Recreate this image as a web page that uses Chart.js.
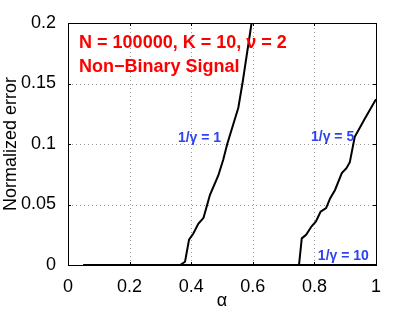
<!DOCTYPE html>
<html>
<head>
<meta charset="utf-8">
<script src="https://cdn.jsdelivr.net/npm/chart.js@4.4.0/dist/chart.umd.min.js"></script>
<style>
  html, body { margin: 0; padding: 0; background: #fff; }
  #wrap { width: 415px; height: 312px; }
</style>
</head>
<body>
<div id="wrap"><canvas id="errChart" width="415" height="312"></canvas></div>
<script>
// curve data
const alphaG1 = [0.05, 0.30, 0.364, 0.380, 0.393, 0.407, 0.423, 0.440, 0.461, 0.488, 0.504, 0.517, 0.553, 0.567, 0.596];
const errG1   = [0, 0, 0, 0.0027, 0.021, 0.026, 0.034, 0.039, 0.058, 0.074, 0.087, 0.100, 0.130, 0.151, 0.200];
const alphaG5 = [0.05, 0.750, 0.759, 0.773, 0.791, 0.805, 0.820, 0.838, 0.851, 0.867, 0.889, 0.904, 0.915, 0.931, 0.942, 0.964, 1.0];
const errG5   = [0, 0, 0.022, 0.025, 0.032, 0.036, 0.044, 0.047, 0.055, 0.062, 0.076, 0.080, 0.085, 0.106, 0.111, 0.121, 0.137];
const alphaG10 = [0.05, 1.0];
const errG10   = [0, 0];

const xTicks = [0, 0.2, 0.4, 0.6, 0.8, 1];
const yTicks = [0, 0.05, 0.1, 0.15, 0.2];

const curveLabels = ['1/\u03b3 = 1', '1/\u03b3 = 5', '1/\u03b3 = 10'];
const titleLines = ['N = 100000, K = 10, \u03bd = 2', 'Non\u2212Binary Signal'];

const fontFam = '"Liberation Sans", Arial, sans-serif';

function toPoints(xs, ys) {
    return xs.map((x, i) => ({ x: x, y: ys[i] }));
}

// dotted grid (matlab style), drawn under the curves
const dottedGrid = {
    id: 'dottedGrid',
    beforeDatasetsDraw(chart) {
        const ctx = chart.ctx;
        const a = chart.chartArea;
        const xs = chart.scales.x, ys = chart.scales.y;
        ctx.save();
        ctx.strokeStyle = '#999';
        ctx.lineWidth = 1;
        ctx.setLineDash([1, 3]);
        ctx.beginPath();
        xTicks.slice(1, -1).forEach(v => {
            const px = Math.round(xs.getPixelForValue(v)) + 0.5;
            ctx.moveTo(px, a.bottom); ctx.lineTo(px, a.top);
        });
        yTicks.slice(1, -1).forEach(v => {
            const py = Math.round(ys.getPixelForValue(v)) + 0.5;
            ctx.moveTo(a.left, py); ctx.lineTo(a.right, py);
        });
        ctx.stroke();
        ctx.restore();
    }
};

// box, inward ticks and in-plot text
const boxAndText = {
    id: 'boxAndText',
    afterDraw(chart) {
        const ctx = chart.ctx;
        const a = chart.chartArea;
        const xs = chart.scales.x, ys = chart.scales.y;
        ctx.save();
        ctx.strokeStyle = '#000';
        ctx.lineWidth = 1;
        ctx.strokeRect(a.left + 0.5, a.top + 0.5, a.right - a.left, a.bottom - a.top);
        ctx.beginPath();
        xTicks.forEach(v => {
            const px = Math.round(xs.getPixelForValue(v)) + 0.5;
            ctx.moveTo(px, a.bottom); ctx.lineTo(px, a.bottom - 3);
            ctx.moveTo(px, a.top); ctx.lineTo(px, a.top + 3);
        });
        yTicks.forEach(v => {
            const py = Math.round(ys.getPixelForValue(v)) + 0.5;
            ctx.moveTo(a.left, py); ctx.lineTo(a.left + 3, py);
            ctx.moveTo(a.right, py); ctx.lineTo(a.right - 3, py);
        });
        ctx.stroke();

        ctx.fillStyle = '#ff0000';
        ctx.font = 'bold 18px ' + fontFam;
        ctx.textAlign = 'left';
        ctx.textBaseline = 'top';
        ctx.fillText(titleLines[0], xs.getPixelForValue(0.036), ys.getPixelForValue(0.191));
        ctx.fillText(titleLines[1], xs.getPixelForValue(0.036), ys.getPixelForValue(0.171));

        ctx.fillStyle = '#2b43f0';
        ctx.font = 'bold 14px ' + fontFam;
        ctx.textAlign = 'center';
        ctx.textBaseline = 'middle';
        ctx.fillText(curveLabels[0], xs.getPixelForValue(0.427), ys.getPixelForValue(0.105));
        ctx.fillText(curveLabels[1], xs.getPixelForValue(0.859), ys.getPixelForValue(0.1057));
        ctx.fillText(curveLabels[2], xs.getPixelForValue(0.894), ys.getPixelForValue(0.0074));
        ctx.restore();
    }
};

const lineStyle = { borderColor: '#000', borderWidth: 2, pointRadius: 0, fill: false, tension: 0 };

const errCtx = document.getElementById('errChart').getContext('2d');
const errChart = new Chart(errCtx, {
    type: 'line',
    data: {
        datasets: [
            { label: curveLabels[0], data: toPoints(alphaG1, errG1), ...lineStyle },
            { label: curveLabels[1], data: toPoints(alphaG5, errG5), ...lineStyle },
            { label: curveLabels[2], data: toPoints(alphaG10, errG10), ...lineStyle }
        ]
    },
    options: {
        responsive: false,
        animation: false,
        clip: true,
        layout: { padding: { top: 23, right: 39, left: 0, bottom: 0 } },
        plugins: {
            legend: { display: false },
            tooltip: { enabled: false }
        },
        scales: {
            x: {
                type: 'linear',
                min: 0,
                max: 1,
                afterBuildTicks: s => { s.ticks = xTicks.map(v => ({ value: v })); },
                afterFit: s => { s.height = 47; },
                border: { display: false },
                grid: { display: false },
                ticks: {
                    color: '#000',
                    padding: 3,
                    maxRotation: 0,
                    font: { family: fontFam, size: 18 },
                    callback: v => String(v)
                },
                title: {
                    display: true,
                    text: '\u03b1',
                    color: '#000',
                    padding: { top: 0, bottom: 0 },
                    font: { family: fontFam, size: 18 }
                }
            },
            y: {
                min: 0,
                max: 0.2,
                afterBuildTicks: s => { s.ticks = yTicks.map(v => ({ value: v })); },
                afterFit: s => { s.width = 68; },
                border: { display: false },
                grid: { display: false },
                ticks: {
                    color: '#000',
                    padding: 4,
                    font: { family: fontFam, size: 18 },
                    callback: v => String(v)
                },
                title: {
                    display: true,
                    text: 'Normalized error',
                    color: '#000',
                    padding: { top: 0, bottom: 0 },
                    font: { family: fontFam, size: 18 }
                }
            }
        }
    },
    plugins: [dottedGrid, boxAndText]
});
</script>
</body>
</html>
